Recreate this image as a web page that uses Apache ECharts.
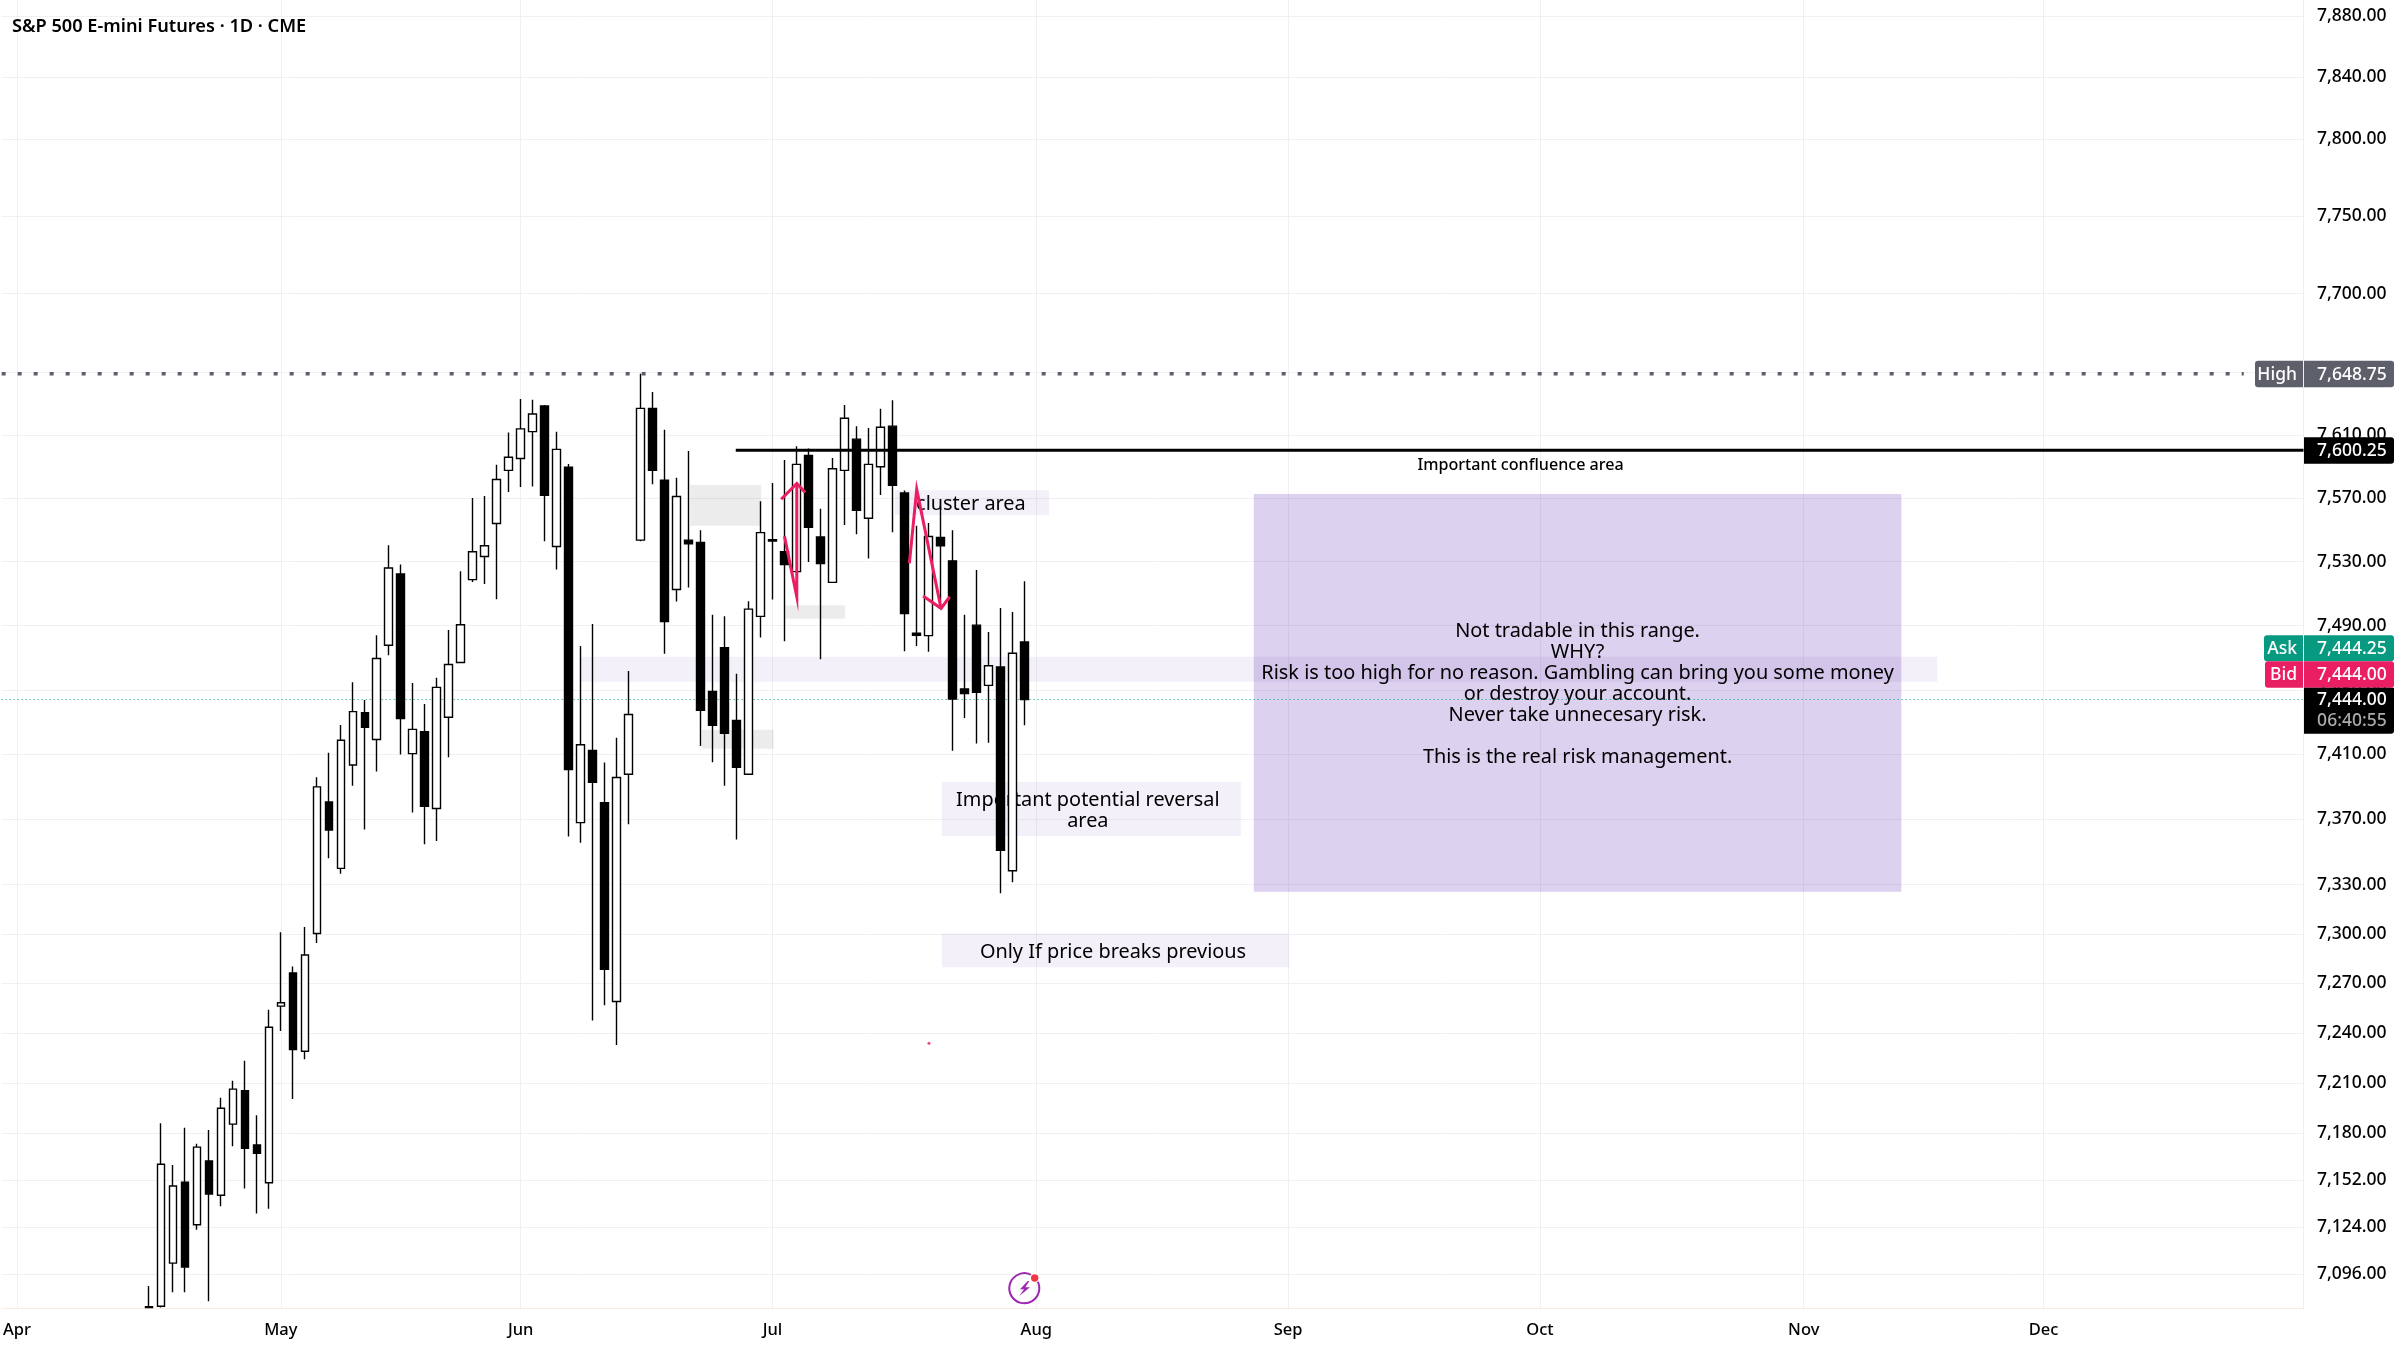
<!DOCTYPE html>
<html><head><meta charset="utf-8"><style>html,body{margin:0;padding:0;background:#fff}#c{width:2402px;height:1350px}</style>
<script src="https://cdn.jsdelivr.net/npm/echarts@6/dist/echarts.min.js"></script></head>
<body><div id="c"></div><script>
const barIndex=[11,12,13,14,15,16,17,18,19,20,21,22,23,24,25,26,27,28,29,30,31,32,33,34,35,36,37,38,39,40,41,42,43,44,45,46,47,48,49,50,51,52,53,54,55,56,57,58,59,60,61,62,63,64,65,66,67,68,69,70,71,72,73,74,75,76,77,78,79,80,81,82,83,84];
const opens=[7076.25,7077,7102.5,7150.5,7125.25,7163.25,7142.75,7185.25,7205.25,7172.75,7150.25,7256.25,7276.25,7229,7300.25,7380.75,7340,7403.5,7435.75,7419.25,7477.75,7522.25,7410.5,7424,7376.75,7433,7467,7518.75,7533.25,7554,7587.5,7595,7612,7628.25,7539.5,7589.5,7368,7412.5,7380.25,7259,7397.75,7543.5,7626.75,7581.25,7512.5,7543.5,7542,7449,7476.25,7431,7397.75,7495.75,7543.75,7536.25,7523.75,7597,7545.5,7517,7587.5,7607.25,7557.25,7589.75,7615.5,7573.25,7485.25,7483.75,7545.25,7530.5,7450.5,7490.25,7452.75,7464.25,7338.5,7479.75];
const highs=[7089,7185.75,7160.75,7183,7173.5,7181.75,7201,7211.25,7223.25,7190.5,7254,7301,7280.25,7304.25,7396,7411,7428.25,7454.75,7443.75,7484,7540.25,7528.25,7454.25,7441.25,7457.5,7487.25,7524,7570,7571.25,7591,7611.5,7632.75,7632.25,7629,7612,7591.5,7477.25,7491,7405,7420.25,7461.75,7648.75,7637.25,7613.25,7582.75,7599.75,7549.75,7496.75,7495.75,7460,7505.25,7568,7579.5,7594,7602.75,7601.25,7563.25,7595.25,7629,7615.5,7614.25,7626.5,7632,7574.75,7552.5,7554.25,7563.75,7549.75,7496.75,7524.75,7486,7501,7498.5,7517.75];
const lows=[7076.25,7076.25,7085.25,7085.25,7122.25,7080,7136.25,7172,7146.75,7132,7134.75,7241.25,7200.25,7224.25,7294.5,7346.25,7336.75,7390.75,7363.75,7399.5,7471.5,7410,7374.25,7354.75,7356.75,7408.25,7467,7517.25,7516,7506.5,7573.75,7577,7577.25,7542.75,7525,7359.5,7355.75,7247.5,7256.75,7232.75,7367,7542.75,7578.75,7472.5,7505,7513.75,7415.25,7405.25,7390.75,7357.75,7397.75,7482.5,7506.25,7480.25,7523.75,7529.75,7469,7517,7553,7547.25,7532,7572,7548.5,7474,7477.25,7473.75,7504.5,7412.25,7432.5,7416.75,7417.25,7324.75,7331.5,7428];
const closes=[7076.75,7161.25,7148.25,7100.25,7171.5,7143.5,7194.75,7206.25,7170.75,7167.75,7243.5,7258.25,7230,7287.25,7390,7363.5,7418.75,7436.5,7426.75,7469.5,7526,7432.25,7425.5,7378,7451.5,7465.75,7490.5,7536.25,7540,7581.75,7595.75,7613.75,7623.25,7571.75,7600.75,7400.75,7416,7392.75,7278.5,7395.75,7434.75,7626.75,7587.5,7492.5,7571,7541.25,7437.25,7428,7423,7402,7500.25,7548.25,7543,7528.25,7591.25,7551.5,7528.75,7588.5,7620.5,7562.25,7591.25,7614.75,7578,7497.5,7484,7545.75,7540,7444.25,7447.75,7448.5,7465,7351,7472.75,7444];
const monthStarts=[0,22,42,63,85,106,127,149,169];
const monthLabels=['Apr','May','Jun','Jul','Aug','Sep','Oct','Nov','Dec'];
const priceTicks=[7880,7840,7800,7750,7700,7650,7610,7570,7530,7490,7450,7410,7370,7330,7300,7270,7240,7210,7180,7152,7124,7096];
const keyLevel=7600.25, highLevel=7648.75, lastPrice=7444;
const zones=[[103.14,7572.5,157.14,7325.75,'rgba(103,58,183,0.23)'],[46.98,7470.5,160.14,7455,'rgba(103,58,183,0.08)'],[73.19,7575,86.06,7559.25,'rgba(103,58,183,0.08)'],[77.14,7393,102.06,7359.75,'rgba(103,58,183,0.08)'],[77.14,7300.25,106.06,7279.75,'rgba(103,58,183,0.08)'],[56.14,7578.25,62.06,7552.5,'rgba(0,0,0,0.075)'],[64.06,7502.75,69.06,7494.25,'rgba(0,0,0,0.075)'],[57.12,7425.25,63.1,7413.5,'rgba(0,0,0,0.075)']];
const notes=[[130.14,7448.25,'Not tradable in this range.\nWHY?\nRisk is too high for no reason. Gambling can bring you some money\nor destroy your account.\nNever take unnecesary risk.\n\nThis is the real risk management.',19.9,400],[89.3,7376.5,'Important potential reversal\narea',19.9,400],[91.4,7290,'Only If price breaks previous',19.9,400],[79.55,7567.25,'cluster area',19.9,400],[125.39,7591.5,'Important confluence area',16.1,500]];
const arrowUp=[[64,7546],[65.03,7508],[65.03,7579.25]];
const arrowUpHead=[[63.73,7569.25],[65.03,7579.25],[65.73,7573.5]];
const arrowDown=[[74.42,7529],[75.03,7575.5],[77.06,7500.75]];
const arrowDownHead=[[75.56,7508.5],[77.06,7500.75],[77.78,7508]];
const strayDot=[[76.05,7233.75]];
const keyLineStart=59.94, axisMinX=-1.28, axisMaxX=190.68, axisMinY=7076, axisMaxY=7890.75, highLineEnd=185.7;

const FONT="'Noto Sans',sans-serif";
const candles=barIndex.map((x,i)=>[x,opens[i],closes[i],lows[i],highs[i]]);
const line=(data,color,width,type,z)=>({type:'line',data,symbol:'none',silent:true,z,clip:true,lineStyle:{color,width,type:type||'solid',cap:'butt',join:'miter'},animation:false});
const chart=echarts.init(document.getElementById('c'),null,{renderer:'canvas'});
chart.setOption({
 animation:false,backgroundColor:'#ffffff',
 title:{text:'S&P 500 E-mini Futures · 1D · CME',left:7,top:12.5,textStyle:{fontFamily:FONT,fontSize:18.2,fontWeight:600,color:'#000'}},
 grid:{left:0,right:98.5,top:0,bottom:42,containLabel:false},
 xAxis:{type:'value',min:axisMinX,max:axisMaxX,
  axisLine:{show:true,onZero:false,lineStyle:{color:'#f8ede2',width:1}},
  axisTick:{show:false,customValues:monthStarts},
  axisLabel:{customValues:monthStarts,formatter:v=>monthLabels[monthStarts.indexOf(v)]||'',fontFamily:FONT,fontSize:16.5,fontWeight:500,color:'#000',margin:14},
  splitLine:{show:true,lineStyle:{color:'#f0f0f0',width:1}}},
 yAxis:{type:'log',logBase:10,position:'right',min:axisMinY,max:axisMaxY,
  axisLine:{show:true,onZero:false,lineStyle:{color:'#f8ede2',width:1}},
  axisTick:{show:false,customValues:priceTicks},
  axisLabel:{customValues:priceTicks,align:'right',margin:83,formatter:v=>Number(v).toLocaleString('en-US',{minimumFractionDigits:2,maximumFractionDigits:2}),fontFamily:FONT,fontSize:17.5,fontWeight:500,color:'#000'},
  splitLine:{show:true,lineStyle:{color:'#f0f0f0',width:1}}},
 series:[
  {type:'custom',z:1,silent:true,data:zones.map(r=>r.slice(0,4)),encode:{x:[0,2],y:[1,3]},
   renderItem:(p,api)=>{const a=api.coord([api.value(0),api.value(1)]),b=api.coord([api.value(2),api.value(3)]);
    return {type:'rect',shape:{x:a[0],y:a[1],width:b[0]-a[0],height:b[1]-a[1]},style:{fill:zones[p.dataIndex][4]}}}},
  {type:'custom',z:1,silent:true,data:notes.map(r=>r.slice(0,2)),encode:{x:0,y:1},
   renderItem:(p,api)=>{const a=api.coord([api.value(0),api.value(1)]),n=notes[p.dataIndex];
    return {type:'text',style:{x:a[0],y:a[1]+1.5,text:n[2],align:'center',verticalAlign:'middle',font:`${n[4]} ${n[3]}px ${FONT}`,lineHeight:21,fill:'#000'}}}},
  line([[axisMinX,highLevel],[highLineEnd,highLevel]],'#5d606b',3.5,[4,12],1),
  line([[axisMinX,lastPrice],[axisMaxX,lastPrice]],'#089981',1,[1,3],1),
  {type:'candlestick',z:3,silent:true,barWidth:8,data:candles,encode:{x:0,y:[1,2,3,4]},
   itemStyle:{color:'#ffffff',color0:'#000000',borderColor:'#000000',borderColor0:'#000000',borderWidth:1.4}},
  line([[keyLineStart,keyLevel],[axisMaxX,keyLevel]],'#000000',3,'solid',5),
  line(arrowUp,'#e91e63',3,'solid',6),line(arrowUpHead,'#e91e63',3,'solid',6),
  line(arrowDown,'#e91e63',3,'solid',6),line(arrowDownHead,'#e91e63',3,'solid',6),
  {type:'scatter',z:6,silent:true,data:strayDot,symbolSize:3,itemStyle:{color:'#e91e63'}}
 ]
});
const Y=v=>chart.convertToPixel({yAxisIndex:0},v);
const tag=(x,y,w,h,fill,r)=>({type:'rect',z:100,shape:{x,y,width:w,height:h,r:r||0},style:{fill}});
const txt=(x,y,text,fill,align)=>({type:'text',z:101,x,y:y+1,style:{text,fill,align:align||'right',verticalAlign:'middle',font:`500 17.5px ${FONT}`}});
const yH=Y(highLevel),yK=Y(keyLevel),yL=Y(lastPrice);
const fmt=v=>v.toLocaleString('en-US',{minimumFractionDigits:2,maximumFractionDigits:2});
chart.setOption({graphic:{elements:[
 tag(2255,yH-13,48,26.5,'#5d606b',[3,0,0,3]),tag(2304,yH-13,90,26.5,'#5d606b',[0,3,3,0]),
 txt(2297,yH,'High','#fff'),txt(2386.7,yH,fmt(highLevel),'#fff'),
 tag(2304,yK-13,90,26.5,'#000',[0,3,3,0]),txt(2386.7,yK,fmt(keyLevel),'#fff'),
 tag(2264,635.3,39,26,'#089981',[3,0,0,3]),tag(2304,635.3,90,26,'#089981',[0,3,3,0]),
 txt(2297,648.3,'Ask','#fff'),txt(2386.7,648.3,'7,444.25','#fff'),
 tag(2265,661.3,38,26.4,'#e91e63',[3,0,0,3]),tag(2304,661.3,90,26.4,'#e91e63',[0,3,3,0]),
 txt(2297,674.5,'Bid','#fff'),txt(2386.7,674.5,'7,444.00','#fff'),
 tag(2304,687.7,90,46,'#000',[0,0,3,0]),txt(2386.7,yL,fmt(lastPrice),'#fff'),txt(2386.7,720,'06:40:55','#aaaaaa'),
 {type:'arc',z:100,shape:{cx:1024.3,cy:1288.3,r:15,startAngle:-0.55,endAngle:-1.0,clockwise:true},style:{stroke:'#9c27b0',lineWidth:2,fill:null}},
 {type:'polygon',z:100,shape:{points:[[1027.7,1281],[1020,1289.3],[1024,1289.3],[1019.3,1296],[1030,1287.3],[1025.3,1287.3],[1029.3,1281]]},style:{fill:'#9c27b0'}},
 {type:'circle',z:100,shape:{cx:1034.7,cy:1278,r:5},style:{fill:'#fff'}},
 {type:'circle',z:101,shape:{cx:1034.7,cy:1278,r:3.7},style:{fill:'#f23645'}}
]}});
</script></body></html>
